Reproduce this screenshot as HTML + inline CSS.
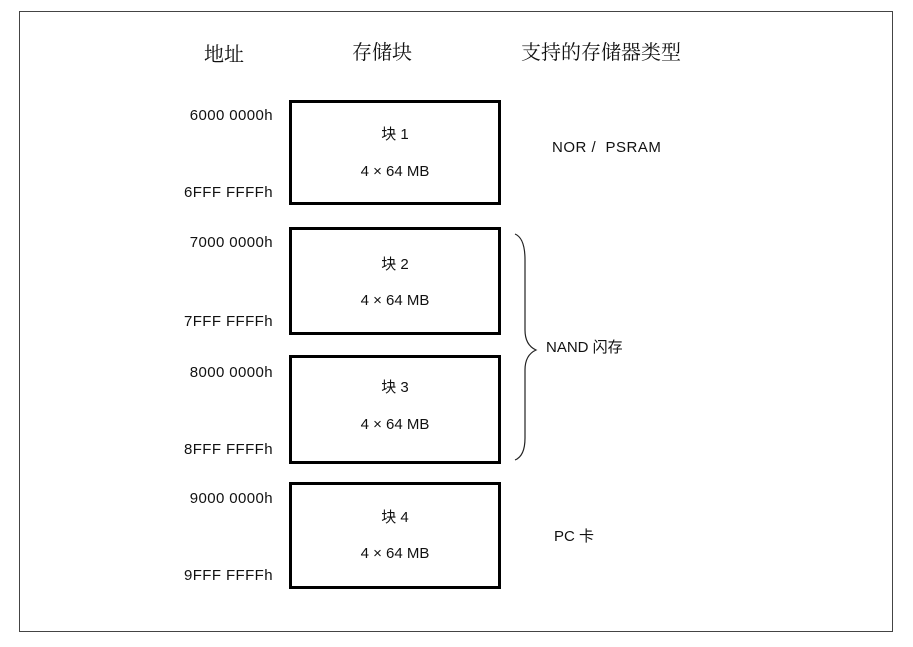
<!DOCTYPE html>
<html><head><meta charset="utf-8"><style>
body{margin:0;background:#fff;width:913px;height:647px;overflow:hidden;font-family:"Liberation Sans","Noto Sans CJK SC",sans-serif;color:#111}
.a{position:absolute;white-space:nowrap}
.r{text-align:right;width:140px;left:133px;font-size:15px;letter-spacing:0.4px}
.box{position:absolute;left:289px;width:206px;border:3px solid #000;background:#fff}
.c{position:absolute;width:206px;text-align:center;left:292px;font-size:15px}
.h{font-family:"Noto Serif CJK SC",serif;font-size:20px}
</style></head><body>
<div class="a" style="left:19px;top:11px;width:872px;height:619px;border:1px solid #444"></div>
<div class="a h" style="left:204px;top:38px">地址</div>
<div class="a h" style="left:352px;top:36px">存储块</div>
<div class="a h" style="left:521px;top:36px">支持的存储器类型</div>

<div class="box" style="top:100px;height:99px"></div>
<div class="box" style="top:227px;height:102px"></div>
<div class="box" style="top:355px;height:103px"></div>
<div class="box" style="top:482px;height:101px"></div>

<div class="a r" style="top:107px">6000 0000h</div>
<div class="a r" style="top:184px">6FFF FFFFh</div>
<div class="a r" style="top:234px">7000 0000h</div>
<div class="a r" style="top:313px">7FFF FFFFh</div>
<div class="a r" style="top:364px">8000 0000h</div>
<div class="a r" style="top:441px">8FFF FFFFh</div>
<div class="a r" style="top:490px">9000 0000h</div>
<div class="a r" style="top:567px">9FFF FFFFh</div>

<div class="c" style="top:123px">块 1</div><div class="c" style="top:163px">4 × 64 MB</div>
<div class="c" style="top:253px">块 2</div><div class="c" style="top:292px">4 × 64 MB</div>
<div class="c" style="top:376px">块 3</div><div class="c" style="top:416px">4 × 64 MB</div>
<div class="c" style="top:506px">块 4</div><div class="c" style="top:545px">4 × 64 MB</div>

<div class="a" style="left:552px;top:139px;font-size:15px;letter-spacing:0.5px">NOR /&nbsp; PSRAM</div>
<div class="a" style="left:546px;top:336px;font-size:15px">NAND 闪存</div>
<div class="a" style="left:554px;top:525px;font-size:15px">PC 卡</div>

<svg class="a" style="left:0;top:0" width="913" height="647">
<path d="M515 234 Q525 238 525 260 L525 330 Q525 345 536 350 Q525 355 525 370 L525 438 Q525 456 515 460" fill="none" stroke="#222" stroke-width="1.2"/>
</svg>
</body></html>
